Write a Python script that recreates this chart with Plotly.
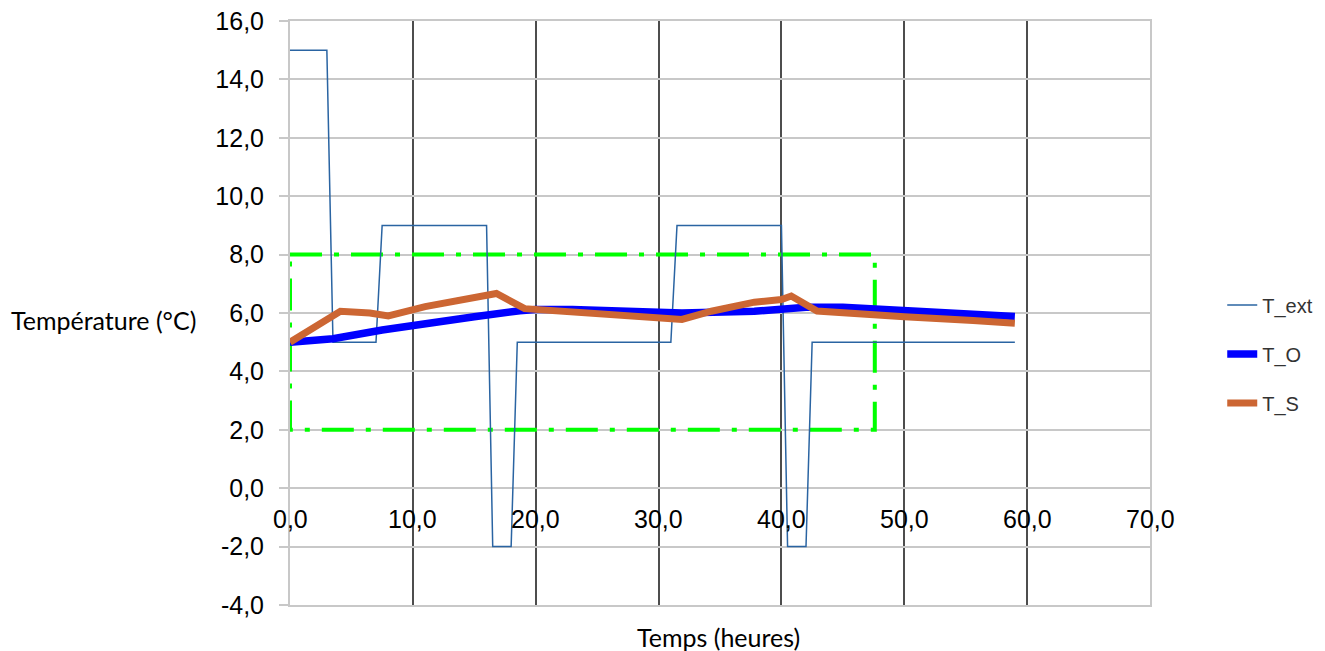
import plotly.graph_objects as go

# ---- data ----
t_ext_time = [0, 3, 3.5, 7, 7.5, 16, 16.5, 18, 18.5, 31, 31.5, 40, 40.5, 42, 42.5, 59]
t_ext_vals = [15, 15, 5, 5, 9, 9, -2, -2, 5, 5, 9, 9, -2, -2, 5, 5]

t_o_time = [0, 3.5, 7.5, 11, 15, 18.7, 20, 23, 28, 31.9, 37.8, 40, 42, 45, 50, 55.6, 59]
t_o_vals = [5.0, 5.12, 5.42, 5.6, 5.87, 6.08, 6.12, 6.12, 6.04, 6.0, 6.06, 6.12, 6.2, 6.2, 6.1, 5.98, 5.88]

t_s_time = [0, 2, 4.1, 6.5, 8, 11, 15, 16.8, 19.1, 22.8, 30, 31.9, 34.3, 37.8, 40, 40.8, 42.9, 45, 50, 55.6, 59]
t_s_vals = [5.0, 5.5, 6.06, 6.0, 5.9, 6.22, 6.52, 6.67, 6.15, 6.04, 5.84, 5.78, 6.06, 6.37, 6.46, 6.58, 6.07, 6.0, 5.87, 5.74, 5.65]

comfort_x = [0, 47.6]   # green dash-dot zone (time bounds)
comfort_y = [2, 8]      # green dash-dot zone (temperature bounds)

x_ticks = [0, 10, 20, 30, 40, 50, 60, 70]
x_tick_labels = ["0,0", "10,0", "20,0", "30,0", "40,0", "50,0", "60,0", "70,0"]
y_ticks = [-4, -2, 0, 2, 4, 6, 8, 10, 12, 14, 16]
y_tick_labels = ["-4,0", "-2,0", "0,0", "2,0", "4,0", "6,0", "8,0", "10,0", "12,0", "14,0", "16,0"]
y_range = [-4, 16]
x_range = [0, 70]

TICK_FONT = dict(family="Liberation Sans, Arial, sans-serif", size=25, color="#000000")
TITLE_FONT = dict(family="Lato, Open Sans, sans-serif", size=25, color="#000000")

fig = go.Figure()

# comfort rectangle
rx = [comfort_x[0], comfort_x[1], comfort_x[1], comfort_x[0], comfort_x[0]]
ry = [comfort_y[1], comfort_y[1], comfort_y[0], comfort_y[0], comfort_y[1]]
fig.add_trace(go.Scatter(x=rx, y=ry, mode="lines", showlegend=False, hoverinfo="skip",
                         line=dict(color="#00ff00", width=4, dash="32px,12px,5px,12px")))

fig.add_trace(go.Scatter(x=t_ext_time, y=t_ext_vals, mode="lines", name="T_ext",
                         legendgroup="a", line=dict(color="#2a64a2", width=1.5)))
fig.add_trace(go.Scatter(x=t_o_time, y=t_o_vals, mode="lines", name="T_O",
                         legendgroup="b", line=dict(color="#0000ff", width=7.5)))
fig.add_trace(go.Scatter(x=t_s_time, y=t_s_vals, mode="lines", name="T_S",
                         legendgroup="c", line=dict(color="#cc6633", width=7)))

# x tick labels sit just under the y=0 line
for xv, lab in zip(x_ticks, x_tick_labels):
    fig.add_annotation(x=xv, y=0, xref="x", yref="y", text=lab, showarrow=False,
                       xanchor="center", yanchor="middle", yshift=-31, font=TICK_FONT)

fig.add_annotation(x=0, y=0.488, xref="paper", yref="paper", text="Température (°C)",
                   showarrow=False, xanchor="center", yanchor="middle", xshift=-187,
                   font=TITLE_FONT)
fig.add_annotation(x=0.4977, y=0, xref="paper", yref="paper", text="Temps (heures)",
                   showarrow=False, xanchor="center", yanchor="middle", yshift=-32,
                   font=TITLE_FONT)

fig.update_layout(
    width=1325, height=651,
    margin=dict(l=282, r=183, t=13, b=54, pad=0, autoexpand=False),
    paper_bgcolor="white", plot_bgcolor="white",
    separators=", ",
    showlegend=True,
    legend=dict(x=1.084, y=0.547, xanchor="left", yanchor="top",
                font=dict(family="Liberation Sans, Arial, sans-serif", size=20, color="#333333"),
                tracegroupgap=20, traceorder="grouped", bgcolor="rgba(0,0,0,0)"),
    xaxis=dict(range=x_range, tickvals=x_ticks[1:-1], showticklabels=False, automargin=False,
               showgrid=True, gridcolor="#4d4d4d", gridwidth=2,
               showline=True, linecolor="#c8c8c8", linewidth=2, mirror=True,
               zeroline=False, ticks=""),
    yaxis=dict(range=y_range, tickvals=y_ticks, ticktext=y_tick_labels, automargin=False,
               showgrid=True, gridcolor="#c8c8c8", gridwidth=2,
               showline=True, linecolor="#c8c8c8", linewidth=2, mirror=True,
               zeroline=False, ticks="outside", ticklen=9, tickcolor="#c8c8c8", tickwidth=2,
               ticklabelstandoff=10, ticklabeloverflow="allow", tickfont=TICK_FONT),
)

fig.write_html("out.html")
